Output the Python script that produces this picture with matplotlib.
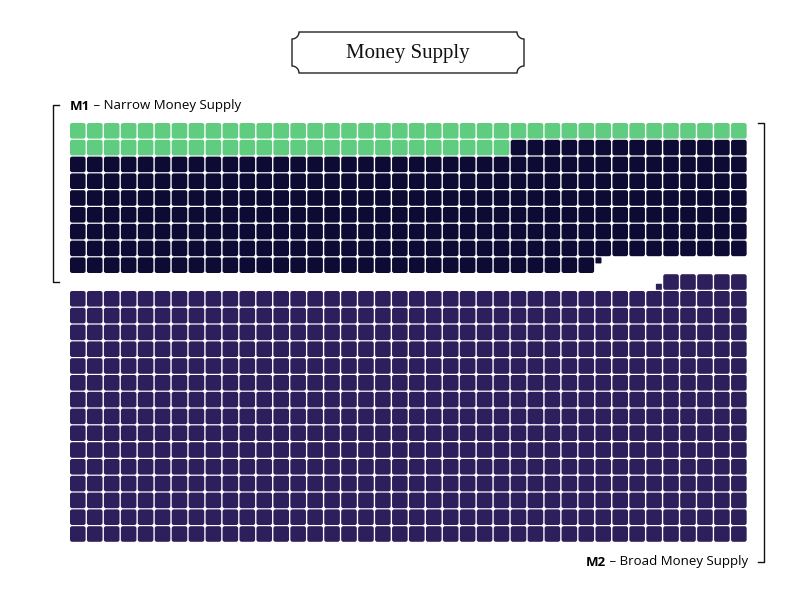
import numpy as np
import matplotlib
matplotlib.use("Agg")
import matplotlib.pyplot as plt
from matplotlib.patches import FancyBboxPatch, Polygon

# Data (units of squares)
categories = ["M1 currency (green)", "M1 other", "M2 other"]
green_units = 66
m1_other_units = 285.15
m2_other_units = 605.15
title = "Money Supply"
label_m1 = ("M1", " – Narrow Money Supply")
label_m2 = ("M2", " – Broad Money Supply")

COLS, ROWS = 40, 25
x0, y0 = 70, 123
px, py = 16.95, 16.8
sq = 15.6
C_GREEN, C_DARK, C_PURPLE = "#5fcc80", "#0d0b33", "#2c1f5b"

fig = plt.figure(figsize=(8.05, 5.98), dpi=100)
ax = fig.add_axes([0, 0, 1, 1])
ax.set_xlim(0, 805); ax.set_ylim(598, 0); ax.axis("off")

def cell(idx, color, frac=1.0, anchor="tl"):
    r, c = divmod(idx, COLS)
    s = sq * np.sqrt(frac)
    if anchor == "tl":
        x, y = x0 + c * px, y0 + r * py
    else:
        x, y = x0 + c * px + sq - s, y0 + r * py + sq - s
    rad = 2.2 * np.sqrt(frac)
    ax.add_patch(FancyBboxPatch((x + rad, y + rad), s - 2 * rad, s - 2 * rad,
                                boxstyle=f"round,pad={rad}", fc=color, ec="none"))

# M1 from top-left
m1_total = green_units + m1_other_units
full = int(np.floor(m1_total))
for i in range(full):
    cell(i, C_GREEN if i < green_units else C_DARK)
if m1_total - full > 0:
    cell(full, C_DARK, m1_total - full, "tl")

# M2 from bottom-right
last = ROWS * COLS - 1
fullm2 = int(np.floor(m2_other_units))
for k in range(fullm2):
    cell(last - k, C_PURPLE)
if m2_other_units - fullm2 > 0:
    cell(last - fullm2, C_PURPLE, m2_other_units - fullm2, "br")

# Title box with notched corners
bx0, bx1, by0, by1, rr = 292, 524, 32, 73, 7
pts = []
def arc(cx, cy, a0, a1):
    t = np.linspace(np.radians(a0), np.radians(a1), 10)
    return list(zip(cx + rr * np.cos(t), cy + rr * np.sin(t)))
pts += arc(bx0, by0, 90, 0)
pts += arc(bx1, by0, 180, 90)
pts += arc(bx1, by1, 270, 180)
pts += arc(bx0, by1, 360, 270)
ax.add_patch(Polygon(pts, closed=True, fc="white", ec="#222222", lw=1))
ax.text((bx0 + bx1) / 2, (by0 + by1) / 2 + 1, title, ha="center", va="center",
        fontsize=15, family="Liberation Serif", color="#111111")

# Labels
t = ax.text(70, 106, label_m1[0], fontsize=9.5, fontweight="bold", family="Open Sans", va="center")
fig.canvas.draw()
bb = t.get_window_extent().transformed(ax.transData.inverted())
ax.text(bb.x1, 106, label_m1[1], fontsize=9.5, family="Open Sans", va="center")

t2 = ax.text(748, 562, label_m2[1], fontsize=9.5, family="Open Sans", va="center", ha="right")
fig.canvas.draw()
bb2 = t2.get_window_extent().transformed(ax.transData.inverted())
ax.text(bb2.x0, 562, label_m2[0], fontsize=9.5, fontweight="bold", family="Open Sans", va="center", ha="right")

# Brackets
ax.plot([59, 53, 53, 59], [105, 105, 282, 282], color="#111111", lw=1)
ax.plot([758, 764, 764, 758], [123, 123, 562, 562], color="#111111", lw=1)

fig.savefig("out.png", dpi=100)
